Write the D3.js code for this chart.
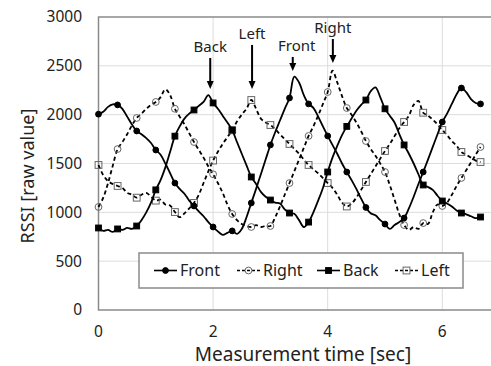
<!DOCTYPE html>
<html>
<head>
<meta charset="utf-8">
<script src="https://cdn.jsdelivr.net/npm/d3@7"></script>
<style>
  body { margin: 0; background: #fff; }
  svg { display: block; font-family: "Noto Sans", "DejaVu Sans", sans-serif; }
</style>
</head>
<body>
<svg id="chart" width="491" height="366"></svg>
<script>
// samples every 1/12 s, a marker on every 4th sample
const sampleStep = 1 / 12;
const markerEvery = 4;

const front = [
  2005, 2030, 2080, 2105, 2100, 2060, 1980, 1900, 1833, 1800, 1760, 1710, 1638,
  1590, 1500, 1400, 1300, 1240, 1190, 1120, 1065, 1010, 960, 900, 850,
  805, 770, 790, 810, 780, 830, 950, 1096, 1240, 1390, 1540, 1690,
  1820, 1940, 2060, 2171, 2390, 2330, 2200, 2110, 2070, 1980, 1880, 1782,
  1690, 1600, 1500, 1413, 1330, 1240, 1140, 1050, 990, 970, 920, 880,
  830, 870, 900, 942, 1040, 1160, 1290, 1413, 1540, 1670, 1800, 1925,
  2010, 2110, 2210, 2273, 2230, 2160, 2120, 2110
];
const right = [
  1055, 1150, 1300, 1480, 1648, 1720, 1800, 1890, 1966, 2010, 2060, 2100, 2130,
  2180, 2260, 2200, 2060, 1980, 1900, 1810, 1720, 1640, 1560, 1470, 1390,
  1300, 1200, 1080, 983, 920, 880, 860, 850, 870, 850, 860, 860,
  950, 1060, 1180, 1300, 1420, 1540, 1660, 1782, 1880, 1990, 2110, 2232,
  2450, 2330, 2190, 2068, 2000, 1920, 1830, 1730, 1650, 1580, 1500, 1413,
  1280, 1130, 980, 870, 820, 850, 830, 890, 880, 1000, 1080, 1065,
  1100, 1180, 1270, 1352, 1430, 1510, 1590, 1669
];
const back = [
  840, 810, 820, 800, 830, 820, 840, 830, 860, 920, 1000, 1100, 1230,
  1330, 1460, 1620, 1780, 1880, 1960, 2010, 2048, 2090, 2130, 2200, 2120,
  2060, 1990, 1920, 1843, 1720, 1600, 1480, 1362, 1290, 1210, 1160, 1126,
  1100, 1090, 1030, 993, 985, 920, 850, 900, 1000, 1120, 1250, 1413,
  1560, 1680, 1790, 1880, 1960, 2040, 2100, 2150, 2240, 2280, 2180, 2060,
  1990, 1920, 1800, 1690, 1600, 1500, 1390, 1280, 1260, 1230, 1170, 1116,
  1090, 1060, 1020, 993, 980, 960, 940, 952
];
const left = [
  1485, 1380, 1320, 1290, 1270, 1250, 1200, 1180, 1150, 1180, 1200, 1160, 1120,
  1130, 1080, 1070, 1003, 950, 990, 1040, 1096, 1180, 1300, 1420, 1530,
  1620, 1700, 1770, 1840, 1930, 2000, 2060, 2150, 2060, 1960, 1920, 1894,
  1850, 1800, 1750, 1700, 1650, 1600, 1540, 1485, 1440, 1400, 1350, 1300,
  1250, 1180, 1100, 1060, 1090, 1150, 1230, 1311, 1390, 1470, 1550, 1628,
  1700, 1780, 1860, 1925, 1990, 2100, 2140, 2020, 1990, 1950, 1900, 1843,
  1790, 1730, 1680, 1618, 1590, 1560, 1530, 1515
];

const seriesNames = ['Front', 'Right', 'Back', 'Left'];
const xTicks = [0, 2, 4, 6];
const yTicks = [0, 500, 1000, 1500, 2000, 2500, 3000];

// arrows: time [s], tip value, tail value
const arrowLabels = ['Back', 'Left', 'Front', 'Right'];
const arrowTimes = [1.95, 2.68, 3.39, 4.09];
const arrowTips = [2263, 2263, 2447, 2529];
const arrowTails = [2580, 2714, 2591, 2775];

const styles = {
  Front: { dash: null, shape: 'circle', filled: true },
  Right: { dash: '4,3', shape: 'circle', filled: false },
  Back:  { dash: null, shape: 'square', filled: true },
  Left:  { dash: '4,3', shape: 'square', filled: false }
};
const valuesByName = { Front: front, Right: right, Back: back, Left: left };

const svg = d3.select('#chart');
const x = d3.scaleLinear().domain([0, 7]).range([98.5, 499.6]);
const y = d3.scaleLinear().domain([0, 3000]).range([310, 17]);

// grid
svg.append('g').selectAll('line.h')
  .data(yTicks.filter(d => d > 0 && d < 3000))
  .enter().append('line')
    .attr('x1', x(0)).attr('x2', x(7))
    .attr('y1', d => y(d)).attr('y2', d => y(d))
    .attr('stroke', '#dcdcdc').attr('stroke-width', 1);
svg.append('g').selectAll('line.v')
  .data(xTicks.filter(d => d > 0))
  .enter().append('line')
    .attr('x1', d => x(d)).attr('x2', d => x(d))
    .attr('y1', y(0)).attr('y2', y(3000))
    .attr('stroke', '#dcdcdc').attr('stroke-width', 1);

// frame
svg.append('path')
  .attr('d', `M${x(7)},${y(3000)}H${x(0)}V${y(0)}H${x(7)}`)
  .attr('fill', 'none').attr('stroke', '#8a8a8a').attr('stroke-width', 1.5);

// tick labels
svg.append('g').selectAll('text')
  .data(yTicks)
  .enter().append('text')
    .attr('x', 82).attr('y', d => y(d)).attr('dy', '0.35em')
    .attr('text-anchor', 'end')
    .attr('font-size', 15.5).attr('fill', '#222')
    .text(d => d);
svg.append('g').selectAll('text')
  .data(xTicks)
  .enter().append('text')
    .attr('x', d => x(d)).attr('y', 337)
    .attr('text-anchor', 'middle')
    .attr('font-size', 15.5).attr('fill', '#222')
    .text(d => d);

svg.append('text')
  .attr('x', 303).attr('y', 361)
  .attr('text-anchor', 'middle')
  .attr('font-size', 19).attr('fill', '#222')
  .text('Measurement time [sec]');
svg.append('text')
  .attr('transform', 'translate(34,176) rotate(-90)')
  .attr('text-anchor', 'middle')
  .attr('font-size', 18).attr('fill', '#222')
  .text('RSSI [raw value]');

function drawMarker(g, shape, filled, cx, cy) {
  if (shape === 'circle') {
    g.append('circle')
      .attr('cx', cx).attr('cy', cy).attr('r', filled ? 2.9 : 3.4)
      .attr('fill', filled ? '#000' : 'none')
      .attr('stroke', filled ? '#000' : '#666').attr('stroke-width', 1);
  } else {
    const s = filled ? 5.8 : 6.8;
    g.append('rect')
      .attr('x', cx - s / 2).attr('y', cy - s / 2).attr('width', s).attr('height', s)
      .attr('fill', filled ? '#000' : 'none')
      .attr('stroke', filled ? '#000' : '#666').attr('stroke-width', 1);
  }
}

const line = d3.line()
  .x((d, i) => x(i * sampleStep))
  .y(d => y(d))
  .curve(d3.curveCatmullRom.alpha(0.5));

// draw dashed series first so solid lines sit on top
['Left', 'Right', 'Back', 'Front'].forEach(name => {
  const st = styles[name];
  const vals = valuesByName[name];
  const g = svg.append('g');
  g.append('path')
    .datum(vals)
    .attr('d', line)
    .attr('fill', 'none')
    .attr('stroke', '#000')
    .attr('stroke-width', 1.8)
    .attr('stroke-dasharray', st.dash);
  vals.forEach((v, i) => {
    if (i % markerEvery === 0) drawMarker(g, st.shape, st.filled, x(i * sampleStep), y(v));
  });
});

// arrows
arrowLabels.forEach((label, k) => {
  const ax = x(arrowTimes[k]);
  const tip = y(arrowTips[k]);
  const tail = y(arrowTails[k]);
  svg.append('line')
    .attr('x1', ax).attr('x2', ax)
    .attr('y1', tail).attr('y2', tip - 6)
    .attr('stroke', '#000').attr('stroke-width', 2);
  svg.append('path')
    .attr('d', `M${ax - 3.5},${tip - 8}L${ax + 3.5},${tip - 8}L${ax},${tip}Z`)
    .attr('fill', '#000');
  svg.append('text')
    .attr('x', ax + (label === 'Front' ? 4 : 0)).attr('y', tail - 6)
    .attr('text-anchor', 'middle')
    .attr('font-size', 15).attr('fill', '#222')
    .text(label);
});

// legend
const lg = svg.append('g');
lg.append('rect')
  .attr('x', 139).attr('y', 253).attr('width', 324).attr('height', 35)
  .attr('fill', '#fff').attr('stroke', '#8a8a8a').attr('stroke-width', 1.5);
const legendX = [154, 237, 317, 395];
seriesNames.forEach((name, k) => {
  const st = styles[name];
  const lx = legendX[k];
  const ly = 270.5;
  lg.append('line')
    .attr('x1', lx).attr('x2', lx + 23)
    .attr('y1', ly).attr('y2', ly)
    .attr('stroke', '#000').attr('stroke-width', 1.6)
    .attr('stroke-dasharray', st.dash ? '3,2' : null);
  drawMarker(lg, st.shape, st.filled, lx + 11.5, ly);
  lg.append('text')
    .attr('x', lx + 26).attr('y', ly).attr('dy', '0.35em')
    .attr('font-size', 16).attr('fill', '#222')
    .text(name);
});
</script>
</body>
</html>
